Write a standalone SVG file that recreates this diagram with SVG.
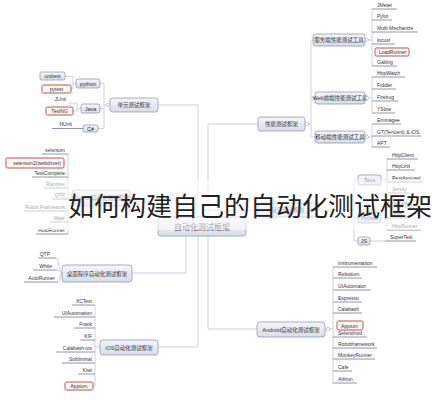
<svg xmlns="http://www.w3.org/2000/svg" width="432" height="400" viewBox="0 0 432 400">
<style>
.ln{fill:none;stroke:#cdd2da;stroke-width:1}
.ul{stroke:#6f7c96;stroke-width:0.8}
.box{fill:url(#bg);stroke:#8e9bb4;stroke-width:0.8}
.red{fill:#fff7f6;stroke:#c0504d;stroke-width:1}
.dot{fill:#fff;stroke:#aeb6c5;stroke-width:0.7}
.bt{font-family:"Liberation Sans","Noto Sans CJK SC",sans-serif;font-size:5.5px;fill:#333;text-anchor:middle}
.ct{font-family:"Liberation Sans","Noto Sans CJK SC",sans-serif;font-size:5px;fill:#333}
.ce{font-family:"Liberation Sans","Noto Sans CJK SC",sans-serif;font-size:5px;fill:#333;text-anchor:end}
.title{font-family:"Noto Sans CJK SC","Liberation Sans",sans-serif;font-size:26px;fill:#222}
</style>
<defs>
<linearGradient id="bg" x1="0" y1="0" x2="0" y2="1"><stop offset="0" stop-color="#f4f6fb"/><stop offset="1" stop-color="#d8deea"/></linearGradient>
</defs>
<rect width="432" height="400" fill="#fff"/>
<g id="connectors">
<path class="ln" d="M198,217 V105 H158"/>
<path class="ln" d="M208,217 V124 H258"/>
<path class="ln" d="M208,210 H258"/>
<path class="ln" d="M208,236 V329 H257"/>
<path class="ln" d="M186,236 V273 H132"/>
<path class="ln" d="M198,236 V347 H158"/>
<path class="ln" d="M176,217 V198 H130"/>
<path class="ln" d="M307,124 H311 M311,40 V137 M311,40 H313 M311,98 H315 M311,137 H315"/>
<path class="ln" d="M367,40 H372 M372,9 V66"/>
<path class="ln" d="M367,98 H372 M372,77 V113"/>
<path class="ln" d="M367,137 H372 M372,124 V147"/>
<path class="ln" d="M318,210 H354 M354,180 V241 M354,180 H358 M354,218 H358 M354,241 H358"/>
<path class="ln" d="M381,180 H387 M387,159 V193 M381,218 H387 M387,207 V230 M370,241 H385"/>
<path class="ln" d="M325,329 H333 M333,267 V383"/>
<path class="ln" d="M110,105 H104 M104,83.5 V128.5 M104,83.5 H100 M104,108.5 H100 M104,128.5 H98"/>
<path class="ln" d="M76,83.5 H73 V76.5 H65 M73,83.5 V89 H71"/>
<path class="ln" d="M81,108.5 H77 V103 H68 M77,108.5 V111 H73"/>
<path class="ln" d="M83,128.5 H82"/>
<path class="ln" d="M72,198 H68 M68,154 V234"/>
<path class="ln" d="M100,347 H95 M95,305 V386"/>
<path class="ln" d="M62,273 C59,273 59,258 56,258 M62,273 C60,273 60,270 57,270 M62,273 C60,273 60,282 58,282"/>
</g>
<g id="center"><rect class="box" x="158" y="217" width="88" height="19" rx="3"/><text class="bt" x="202" y="229.5" style="font-size:8px">自动化测试框架</text></g>
<g id="perf"><rect class="box" x="258" y="117" width="47" height="14" rx="2.5"/><text class="bt" x="281.5" y="126">性能测试框架</text><circle class="dot" cx="307" cy="124" r="1.8"/></g>
<g id="perf-server"><rect class="box" x="313" y="34" width="52" height="12" rx="2.5"/><text class="bt" x="339" y="42">服务端性能测试工具</text><circle class="dot" cx="367" cy="40" r="1.6"/></g>
<g id="perf-web"><rect class="box" x="315" y="92" width="50" height="12" rx="2.5"/><text class="bt" x="340" y="100">Web前端性能测试工具</text><circle class="dot" cx="367" cy="98" r="1.6"/></g>
<g id="perf-mobile"><rect class="box" x="315" y="131" width="50" height="12" rx="2.5"/><text class="bt" x="340" y="139">移动端性能测试工具</text><circle class="dot" cx="367" cy="137" r="1.6"/></g>
<g id="jmeter"><text class="ct" x="377" y="7">JMeter</text><line class="ul" x1="372" y1="9" x2="397" y2="9"/></g>
<g id="pylot"><text class="ct" x="377" y="18">Pylot</text><line class="ul" x1="372" y1="20" x2="392" y2="20"/></g>
<g id="multimech"><text class="ct" x="377" y="30">Multi-Mechanize</text><line class="ul" x1="372" y1="32" x2="418" y2="32"/></g>
<g id="locust"><text class="ct" x="377" y="42">locust</text><line class="ul" x1="372" y1="44" x2="395" y2="44"/></g>
<g id="loadrunner"><rect class="red" x="375" y="48" width="34" height="8" rx="1.5"/><text class="ct" x="379" y="54">LoadRunner</text></g>
<g id="gatling"><text class="ct" x="377" y="64">Gatling</text><line class="ul" x1="372" y1="66" x2="397" y2="66"/></g>
<g id="httpwatch"><text class="ct" x="377" y="75">HttpWatch</text><line class="ul" x1="372" y1="77" x2="405" y2="77"/></g>
<g id="fiddler"><text class="ct" x="377" y="87">Fiddler</text><line class="ul" x1="372" y1="89" x2="396" y2="89"/></g>
<g id="firebug"><text class="ct" x="377" y="99">Firebug</text><line class="ul" x1="372" y1="101" x2="398" y2="101"/></g>
<g id="yslow"><text class="ct" x="377" y="111">YSlow</text><line class="ul" x1="372" y1="113" x2="395" y2="113"/></g>
<g id="emmagee"><text class="ct" x="377" y="122">Emmagee</text><line class="ul" x1="372" y1="124" x2="401" y2="124"/></g>
<g id="gt"><text class="ct" x="377" y="134">GT(Tencent) &amp; iOS</text><line class="ul" x1="372" y1="136" x2="421" y2="136"/></g>
<g id="apt"><text class="ct" x="377" y="145">APT</text><line class="ul" x1="372" y1="147" x2="390" y2="147"/></g>
<g id="api"><rect class="box" x="258" y="203" width="60" height="14" rx="2.5"/><text class="bt" x="288" y="212">接口测试框架</text></g>
<g id="api-java"><rect class="box" x="358" y="175" width="23" height="10" rx="2"/><text class="bt" x="369.5" y="182">Java</text></g>
<g id="api-python"><rect class="box" x="358" y="213" width="23" height="10" rx="2"/><text class="bt" x="369.5" y="220">Python</text></g>
<g id="api-js"><rect class="box" x="358" y="237" width="12" height="8" rx="2"/><text class="bt" x="364" y="243">JS</text></g>
<g id="httpclient"><text class="ct" x="392" y="157">HttpClient</text><line class="ul" x1="387" y1="159" x2="418" y2="159"/></g>
<g id="httpunit"><text class="ct" x="392" y="168">HttpUnit</text><line class="ul" x1="387" y1="170" x2="415" y2="170"/></g>
<g id="restassured"><text class="ct" x="392" y="180">RestAssured</text><line class="ul" x1="387" y1="182" x2="423" y2="182"/></g>
<g id="jersey"><text class="ct" x="392" y="191">Jersey</text><line class="ul" x1="387" y1="193" x2="409" y2="193"/></g>
<g id="requests"><text class="ct" x="392" y="205">requests</text><line class="ul" x1="387" y1="207" x2="414" y2="207"/></g>
<g id="urllib"><text class="ct" x="392" y="216">urllib</text><line class="ul" x1="387" y1="218" x2="408" y2="218"/></g>
<g id="httprunner"><text class="ct" x="392" y="228">HttpRunner</text><line class="ul" x1="387" y1="230" x2="421" y2="230"/></g>
<g id="supertest"><text class="ct" x="390" y="239">SuperTest</text><line class="ul" x1="385" y1="241" x2="416" y2="241"/></g>
<g id="android"><rect class="box" x="257" y="322" width="68" height="15" rx="3"/><text class="bt" x="291" y="331.5">Android自动化测试框架</text><circle class="dot" cx="328" cy="329" r="1.7"/></g>
<g id="instrumentation"><text class="ct" x="338" y="265">Instrumentation</text><line class="ul" x1="333" y1="267" x2="377" y2="267"/></g>
<g id="robotium"><text class="ct" x="338" y="276">Robotium</text><line class="ul" x1="333" y1="278" x2="362" y2="278"/></g>
<g id="uiautomator"><text class="ct" x="338" y="288">UIAutomator</text><line class="ul" x1="333" y1="290" x2="371" y2="290"/></g>
<g id="espresso"><text class="ct" x="338" y="300">Espresso</text><line class="ul" x1="333" y1="302" x2="362" y2="302"/></g>
<g id="calabash"><text class="ct" x="338" y="311">Calabash</text><line class="ul" x1="333" y1="313" x2="362" y2="313"/></g>
<g id="appium-a"><rect class="red" x="337" y="321" width="26" height="9" rx="1.5"/><text class="ct" x="341" y="327.5">Appium</text></g>
<g id="selendroid"><text class="ct" x="338" y="335">Selendroid</text><line class="ul" x1="333" y1="337" x2="367" y2="337"/></g>
<g id="robotframework"><text class="ct" x="338" y="346">Robotframework</text><line class="ul" x1="333" y1="348" x2="377" y2="348"/></g>
<g id="monkeyrunner"><text class="ct" x="338" y="357">MonkeyRunner</text><line class="ul" x1="333" y1="359" x2="375" y2="359"/></g>
<g id="cafe"><text class="ct" x="338" y="369">Cafe</text><line class="ul" x1="333" y1="371" x2="352" y2="371"/></g>
<g id="athrun"><text class="ct" x="338" y="381">Athrun</text><line class="ul" x1="333" y1="383" x2="357" y2="383"/></g>
<g id="unit"><rect class="box" x="110" y="98" width="48" height="14" rx="2.5"/><text class="bt" x="134" y="107">单元测试框架</text><circle class="dot" cx="108" cy="105" r="1.6"/></g>
<g id="unit-python"><rect class="box" x="76" y="79" width="24" height="9" rx="2"/><text class="bt" x="88" y="85.5">python</text></g>
<g id="unit-java"><rect class="box" x="81" y="104" width="19" height="9" rx="2"/><text class="bt" x="90.5" y="110.5">Java</text></g>
<g id="unit-cs"><rect class="box" x="83" y="125" width="15" height="7" rx="2"/><text class="bt" x="90.5" y="130.5">C#</text></g>
<g id="unittest"><rect class="box" x="40" y="72" width="25" height="8" rx="1.5"/><text class="bt" x="52.5" y="78" style="font-size:5px">unittest</text></g>
<g id="pytest"><rect class="red" x="42" y="85" width="29" height="8" rx="1.5"/><text class="bt" x="56.5" y="91" style="font-size:5px">pytest</text></g>
<g id="junit"><text class="ce" x="66" y="101">JUnit</text></g>
<g id="testng"><rect class="red" x="46" y="107" width="27" height="8" rx="1.5"/><text class="bt" x="59.5" y="113" style="font-size:5px">TestNG</text></g>
<g id="nunit"><text class="ce" x="72" y="126">NUnit</text><line class="ul" x1="52" y1="128.5" x2="83" y2="128.5"/></g>
<g id="webui"><rect class="box" x="72" y="190" width="58" height="16" rx="2.5"/><text class="bt" x="101" y="200">Web UI自动化测试框架</text></g>
<g id="selenium"><text class="ce" x="65" y="152">selenium</text><line class="ul" x1="42" y1="154" x2="68" y2="154"/></g>
<g id="webdriver"><rect class="red" x="6" y="158" width="58" height="10" rx="1.5"/><text class="ce" x="61" y="165">selenium2(webdriver)</text></g>
<g id="testcomplete"><text class="ce" x="65" y="175">TestComplete</text><line class="ul" x1="32" y1="177" x2="68" y2="177"/></g>
<g id="ranorex"><text class="ce" x="65" y="186">Ranorex</text><line class="ul" x1="44" y1="188" x2="68" y2="188"/></g>
<g id="qtp-w"><text class="ce" x="65" y="197">QTP</text><line class="ul" x1="52" y1="199" x2="68" y2="199"/></g>
<g id="robot"><text class="ce" x="65" y="209">Robot Framework</text><line class="ul" x1="24" y1="211" x2="68" y2="211"/></g>
<g id="watir"><text class="ce" x="65" y="220">Watir</text><line class="ul" x1="50" y1="222" x2="68" y2="222"/></g>
<g id="autorunner-w"><text class="ce" x="65" y="232">AutoRunner</text><line class="ul" x1="36" y1="234" x2="68" y2="234"/></g>
<g id="desktop"><rect class="box" x="62" y="265" width="70" height="17" rx="3"/><text class="bt" x="97" y="275.5">桌面程序自动化测试框架</text></g>
<g id="qtp-d"><text class="ce" x="50" y="256">QTP</text><line class="ul" x1="38" y1="258" x2="56" y2="258"/></g>
<g id="white"><text class="ce" x="52" y="268">White</text><line class="ul" x1="33" y1="270" x2="57" y2="270"/></g>
<g id="autorunner-d"><text class="ce" x="55" y="280">AutoRunner</text><line class="ul" x1="24" y1="282" x2="58" y2="282"/></g>
<g id="ios"><rect class="box" x="100" y="340" width="58" height="15" rx="3"/><text class="bt" x="129" y="349.5">iOS自动化测试框架</text></g>
<g id="xctest"><text class="ce" x="92" y="303">XCTest</text><line class="ul" x1="72" y1="305" x2="95" y2="305"/></g>
<g id="uiautomation"><text class="ce" x="92" y="315">UIAutomation</text><line class="ul" x1="54" y1="317" x2="95" y2="317"/></g>
<g id="frank"><text class="ce" x="92" y="326">Frank</text><line class="ul" x1="74" y1="328" x2="95" y2="328"/></g>
<g id="kif"><text class="ce" x="92" y="338">KIF</text><line class="ul" x1="80" y1="340" x2="95" y2="340"/></g>
<g id="calabash-ios"><text class="ce" x="92" y="350">Calabash-ios</text><line class="ul" x1="56" y1="352" x2="95" y2="352"/></g>
<g id="subliminal"><text class="ce" x="92" y="361">Subliminal</text><line class="ul" x1="62" y1="363" x2="95" y2="363"/></g>
<g id="kiwi"><text class="ce" x="92" y="372">Kiwi</text><line class="ul" x1="78" y1="374" x2="95" y2="374"/></g>
<g id="appium-i"><rect class="red" x="65" y="382" width="28" height="8" rx="1.5"/><text class="bt" x="79" y="388" style="font-size:5px">Appium</text></g>
<rect x="0" y="179" width="432" height="51" fill="#fff" fill-opacity="0.55"/>
<text class="title" x="68" y="216">如何构建自己的自动化测试框架</text>
</svg>
